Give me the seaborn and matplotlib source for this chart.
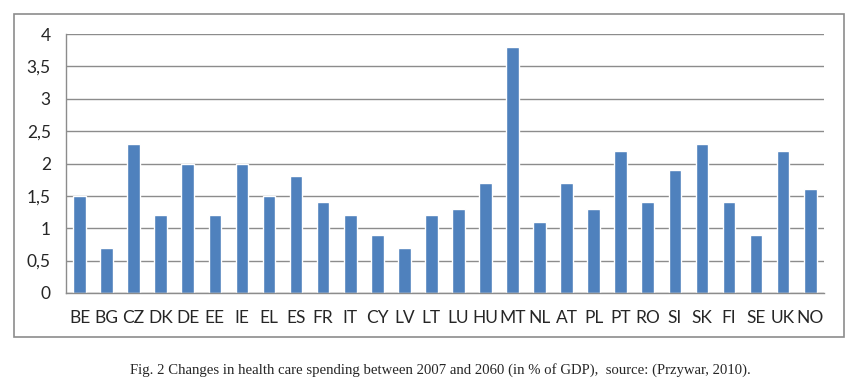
import numpy as np
import pandas as pd
import seaborn as sns
import matplotlib.pyplot as plt
from matplotlib.patches import Rectangle

# data
countries = ['BE', 'BG', 'CZ', 'DK', 'DE', 'EE', 'IE', 'EL', 'ES', 'FR', 'IT', 'CY', 'LV', 'LT',
             'LU', 'HU', 'MT', 'NL', 'AT', 'PL', 'PT', 'RO', 'SI', 'SK', 'FI', 'SE', 'UK', 'NO']
change = [1.5, 0.7, 2.3, 1.2, 2.0, 1.2, 2.0, 1.5, 1.8, 1.4, 1.2, 0.9, 0.7, 1.2,
          1.3, 1.7, 3.8, 1.1, 1.7, 1.3, 2.2, 1.4, 1.9, 2.3, 1.4, 0.9, 2.2, 1.6]
yticks = [0, 0.5, 1, 1.5, 2, 2.5, 3, 3.5, 4]
ytick_labels = ['0', '0,5', '1', '1,5', '2', '2,5', '3', '3,5', '4']

df = pd.DataFrame({'country': countries, 'change': change})

sns.set_style('white')
plt.rcParams['font.family'] = ['Lato', 'DejaVu Sans']

fig = plt.figure(figsize=(8.61, 3.87), dpi=100)
ax = fig.add_axes([0.0767, 0.243, 0.880, 0.669])

sns.barplot(data=df, x='country', y='change', color='#4F81BD', saturation=1,
            width=0.47, ax=ax)

ax.set_ylim(0, 4)
ax.set_xlim(-0.5, len(countries) - 0.5)
ax.set_yticks(yticks)
ax.set_yticklabels(ytick_labels, fontsize=12.5)
ax.set_xlabel('')
ax.set_ylabel('')
ax.yaxis.grid(True, color='#8c8c8c', linewidth=1)
ax.set_axisbelow(True)

for s in ['top', 'right']:
    ax.spines[s].set_visible(False)
for s in ['left', 'bottom']:
    ax.spines[s].set_color('#8c8c8c')
    ax.spines[s].set_linewidth(1)

# category labels without marks, tick marks between categories
ax.tick_params(axis='x', which='major', length=0, labelsize=12.5, pad=12)
ax.set_xticks(np.arange(-0.5, len(countries)), minor=True)
ax.tick_params(axis='x', which='minor', length=5, color='#8c8c8c', direction='out')
ax.tick_params(axis='y', length=5, color='#8c8c8c', direction='out', pad=6)

# frame around the chart
fig.patches.append(Rectangle((14 / 861, 1 - 337 / 387), (844 - 14) / 861, (337 - 14) / 387,
                             transform=fig.transFigure, fill=False,
                             edgecolor='#8c8c8c', linewidth=1.2))

fig.text(440 / 861, 1 - 370 / 387,
         'Fig. 2 Changes in health care spending between 2007 and 2060 (in % of GDP),  source: (Przywar, 2010).',
         ha='center', va='center', fontsize=10.6, family=['Liberation Serif', 'DejaVu Serif'])

fig.savefig('out.png', dpi=100)
